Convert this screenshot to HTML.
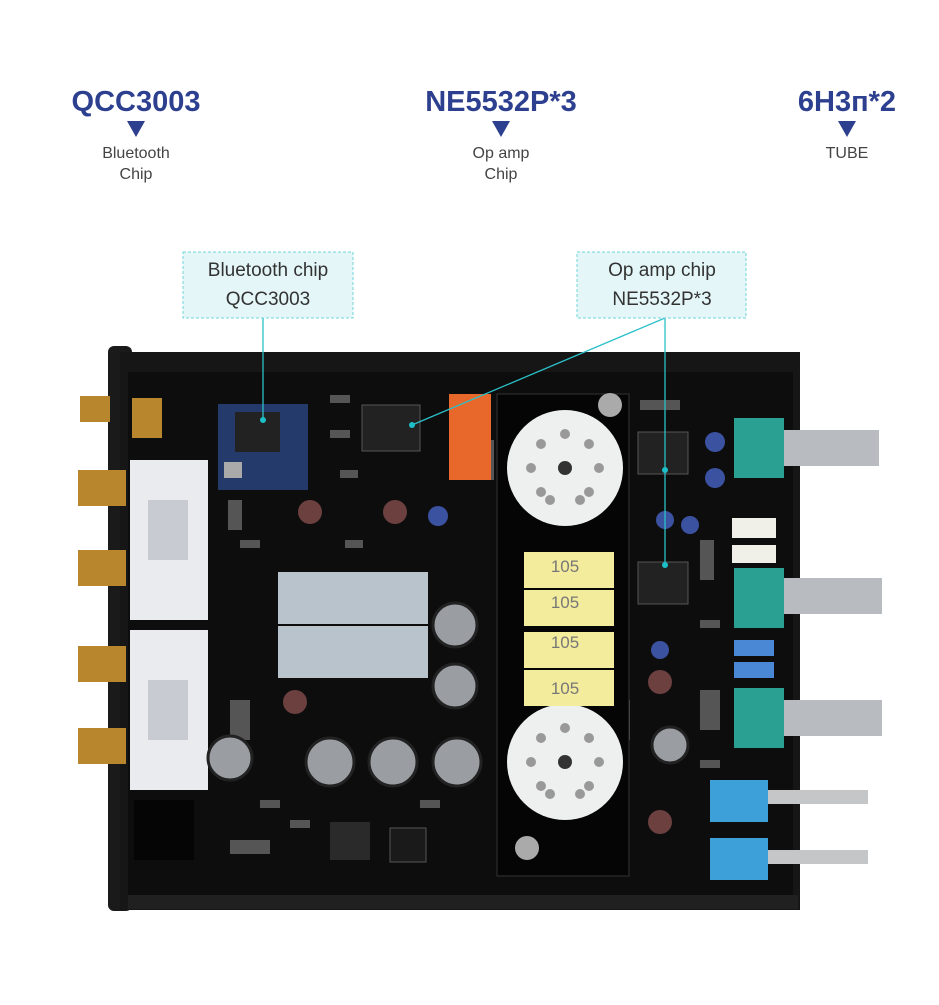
<!DOCTYPE html>
<html><head><meta charset="utf-8"><style>
body{margin:0;background:#fff;width:939px;height:1000px;overflow:hidden;font-family:"Liberation Sans",sans-serif}
</style></head><body>
<svg width="939" height="1000" viewBox="0 0 939 1000" xmlns="http://www.w3.org/2000/svg" font-family="Liberation Sans, sans-serif">
<rect width="939" height="1000" fill="#fff"/>
<g fill="#2d3f8f" font-weight="bold" font-size="29" text-anchor="middle">
<text x="136" y="111">QCC3003</text>
<text x="501" y="111">NE5532P*3</text>
<text x="847" y="111">6H3п*2</text>
</g>
<g fill="#2d3f8f"><path d="M127 121h18l-9 16z"/><path d="M492 121h18l-9 16z"/><path d="M838 121h18l-9 16z"/></g>
<g fill="#444" font-size="16" text-anchor="middle">
<text x="136" y="158">Bluetooth</text><text x="136" y="179">Chip</text>
<text x="501" y="158">Op amp</text><text x="501" y="179">Chip</text>
<text x="847" y="158">TUBE</text>
</g>
<rect x="108" y="346" width="24" height="565" rx="6" fill="#1a1a1a"/>
<rect x="120" y="352" width="680" height="558" fill="#161616"/>
<rect x="128" y="372" width="665" height="523" fill="#0d0d0d"/>
<rect x="128" y="895" width="670" height="14" fill="#202020"/>
<!-- SMD texture -->
<g fill="#555">
<rect x="330" y="395" width="20" height="8"/><rect x="330" y="430" width="20" height="8"/><rect x="228" y="500" width="14" height="30"/><rect x="240" y="540" width="20" height="8"/>
<rect x="340" y="470" width="18" height="8"/><rect x="345" y="540" width="18" height="8"/><rect x="480" y="440" width="14" height="40"/><rect x="520" y="530" width="14" height="8"/>
<rect x="230" y="700" width="20" height="40"/><rect x="260" y="800" width="20" height="8"/><rect x="230" y="840" width="40" height="14"/><rect x="290" y="820" width="20" height="8"/>
<rect x="700" y="540" width="14" height="40"/><rect x="700" y="620" width="20" height="8"/><rect x="700" y="690" width="20" height="40"/><rect x="640" y="400" width="40" height="10"/>
<rect x="620" y="700" width="10" height="40"/><rect x="420" y="800" width="20" height="8"/><rect x="700" y="760" width="20" height="8"/>
</g>
<g fill="#b8862c"><rect x="78" y="470" width="48" height="36"/><rect x="78" y="550" width="48" height="36"/><rect x="78" y="646" width="48" height="36"/><rect x="78" y="728" width="48" height="36"/><rect x="80" y="396" width="30" height="26"/><rect x="132" y="398" width="30" height="40"/></g>
<g fill="#e9ebee"><rect x="130" y="460" width="78" height="160"/><rect x="130" y="630" width="78" height="160"/></g>
<g fill="#c8ccd2"><rect x="148" y="500" width="40" height="60"/><rect x="148" y="680" width="40" height="60"/></g>
<rect x="134" y="800" width="60" height="60" fill="#050505"/>
<rect x="218" y="404" width="90" height="86" fill="#243a6a"/>
<rect x="235" y="412" width="45" height="40" fill="#222"/>
<rect x="224" y="462" width="18" height="16" fill="#aaa"/>
<rect x="362" y="405" width="58" height="46" fill="#222" stroke="#555"/>
<rect x="449" y="394" width="42" height="86" fill="#e8672a"/>
<rect x="497" y="394" width="132" height="482" fill="#050505" stroke="#333"/>
<circle cx="565" cy="468" r="58" fill="#eef0f0"/><circle cx="565" cy="468" r="7" fill="#333"/>
<circle cx="565" cy="762" r="58" fill="#eef0f0"/><circle cx="565" cy="762" r="7" fill="#333"/>
<g fill="#999">
<circle cx="565" cy="434" r="5"/><circle cx="589" cy="444" r="5"/><circle cx="599" cy="468" r="5"/><circle cx="589" cy="492" r="5"/><circle cx="541" cy="444" r="5"/><circle cx="531" cy="468" r="5"/><circle cx="541" cy="492" r="5"/><circle cx="580" cy="500" r="5"/><circle cx="550" cy="500" r="5"/>
<circle cx="565" cy="728" r="5"/><circle cx="589" cy="738" r="5"/><circle cx="599" cy="762" r="5"/><circle cx="589" cy="786" r="5"/><circle cx="541" cy="738" r="5"/><circle cx="531" cy="762" r="5"/><circle cx="541" cy="786" r="5"/><circle cx="580" cy="794" r="5"/><circle cx="550" cy="794" r="5"/>
</g>
<circle cx="610" cy="405" r="12" fill="#aaa"/><circle cx="527" cy="848" r="12" fill="#aaa"/>
<g fill="#f3ec9c"><rect x="524" y="552" width="90" height="36"/><rect x="524" y="590" width="90" height="36"/><rect x="524" y="632" width="90" height="36"/><rect x="524" y="670" width="90" height="36"/></g>
<g fill="#777" font-size="17" text-anchor="middle"><text x="565" y="572">105</text><text x="565" y="608">105</text><text x="565" y="648">105</text><text x="565" y="694">105</text></g>
<rect x="278" y="572" width="150" height="52" fill="#b9c3cc"/>
<rect x="278" y="626" width="150" height="52" fill="#b9c3cc"/>
<g fill="#9a9ea3" stroke="#222" stroke-width="3">
<circle cx="455" cy="625" r="22"/><circle cx="455" cy="686" r="22"/><circle cx="230" cy="758" r="22"/>
<circle cx="330" cy="762" r="24"/><circle cx="393" cy="762" r="24"/><circle cx="457" cy="762" r="24"/>
<circle cx="670" cy="745" r="18"/>
</g>
<g fill="#3b52a0"><circle cx="715" cy="442" r="10"/><circle cx="715" cy="478" r="10"/><circle cx="665" cy="520" r="9"/><circle cx="690" cy="525" r="9"/><circle cx="438" cy="516" r="10"/><circle cx="660" cy="650" r="9"/></g>
<g fill="#6d4040"><circle cx="310" cy="512" r="12"/><circle cx="395" cy="512" r="12"/><circle cx="295" cy="702" r="12"/><circle cx="660" cy="682" r="12"/><circle cx="660" cy="822" r="12"/></g>
<rect x="638" y="432" width="50" height="42" fill="#222" stroke="#555"/>
<rect x="638" y="562" width="50" height="42" fill="#222" stroke="#555"/>
<g fill="#2aa092"><rect x="734" y="418" width="50" height="60"/><rect x="734" y="568" width="50" height="60"/><rect x="734" y="688" width="50" height="60"/></g>
<g fill="#b8bcc0"><rect x="784" y="430" width="95" height="36"/><rect x="784" y="578" width="98" height="36"/><rect x="784" y="700" width="98" height="36"/></g>
<g fill="#f0efe8"><rect x="732" y="518" width="44" height="20"/><rect x="732" y="545" width="44" height="18"/></g>
<g fill="#4a88d6"><rect x="734" y="640" width="40" height="16"/><rect x="734" y="662" width="40" height="16"/></g>
<g fill="#3da0d8"><rect x="710" y="780" width="58" height="42"/><rect x="710" y="838" width="58" height="42"/></g>
<g fill="#c4c6c8"><rect x="768" y="790" width="100" height="14"/><rect x="768" y="850" width="100" height="14"/></g>
<rect x="330" y="822" width="40" height="38" fill="#2a2a2a"/><rect x="390" y="828" width="36" height="34" fill="#1a1a1a" stroke="#555"/>
<g stroke="#2cc0c8" stroke-width="1.3" fill="none">
<line x1="263" y1="318" x2="263" y2="420"/>
<line x1="665" y1="318" x2="665" y2="565"/>
<line x1="665" y1="318" x2="412" y2="425"/>
</g>
<g fill="#1cc0c8"><circle cx="263" cy="420" r="3"/><circle cx="412" cy="425" r="3"/><circle cx="665" cy="470" r="3"/><circle cx="665" cy="565" r="3"/></g>
<g fill="#e4f6f8" stroke="#6fd4d8" stroke-dasharray="3 2"><rect x="183" y="252" width="170" height="66"/><rect x="577" y="252" width="169" height="66"/></g>
<g fill="#333" font-size="19" text-anchor="middle">
<text x="268" y="276">Bluetooth chip</text><text x="268" y="305">QCC3003</text>
<text x="662" y="276">Op amp chip</text><text x="662" y="305">NE5532P*3</text>
</g>
</svg>
</body></html>
